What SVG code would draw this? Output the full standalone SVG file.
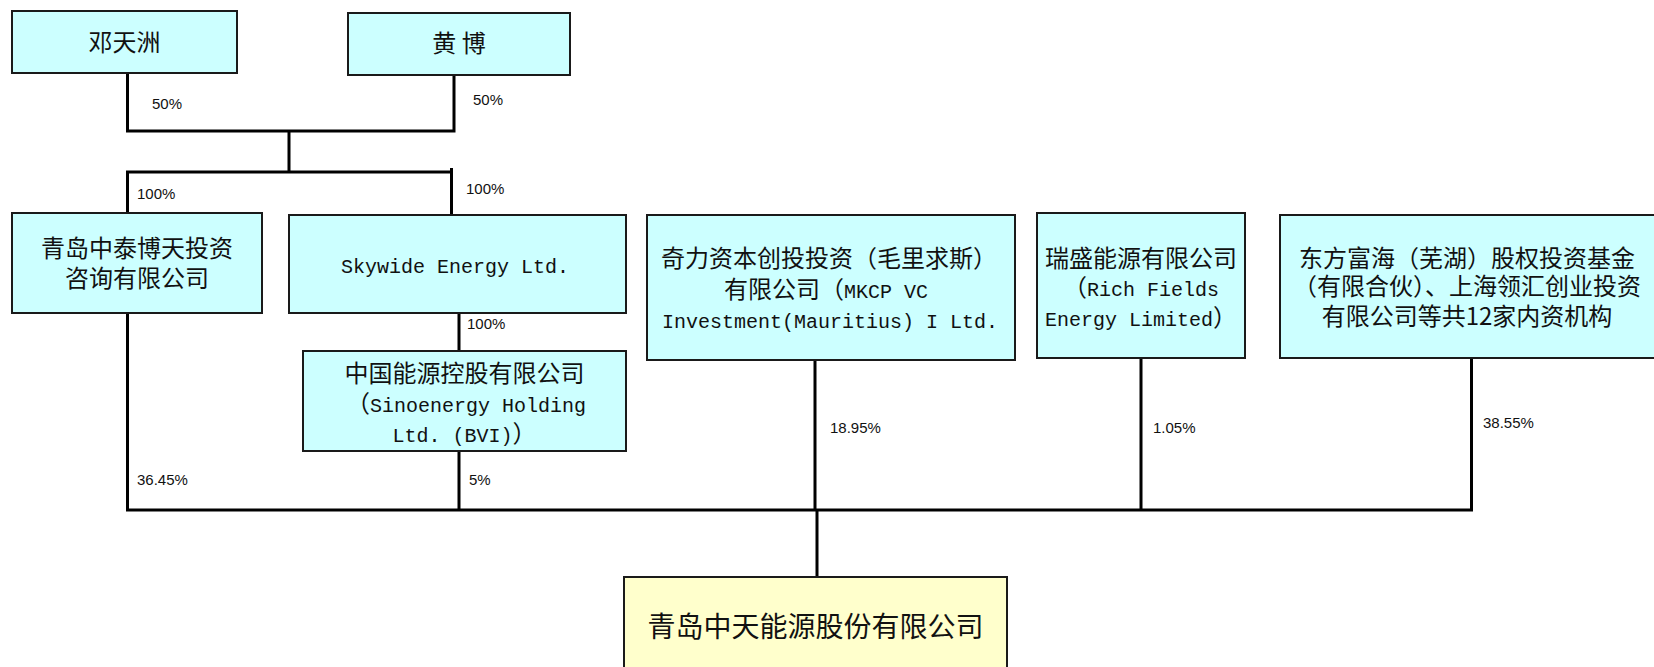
<svg xmlns="http://www.w3.org/2000/svg" width="1654" height="667" viewBox="0 0 1654 667">
<style>
.box{fill:#CCFFFF;stroke:#1a1a1a;stroke-width:2}
.boxY{fill:#FFFFCC;stroke:#1a1a1a;stroke-width:2}
.t{font-family:"Noto Sans CJK SC","Noto Sans CJK JP",sans-serif;font-size:24px;fill:#111;text-anchor:middle}
.m{font-family:"Liberation Mono","DejaVu Sans Mono",monospace;font-size:20px}
.lbl{font-family:"Liberation Sans","Open Sans",sans-serif;font-size:15px;fill:#111}
.ln{fill:none;stroke:#000;stroke-width:3}
</style>
<rect width="1654" height="667" fill="#fff"/>
<g id="connectors">
<path class="ln" d="M127.5 73V131M454 75V131M126 131H455.5M289 131V172M126 172H453M127.5 172V213M451.5 168V215"/>
<path class="ln" d="M127.5 313V510M459 313V351M459 451V510M815 360V510M1141 358V510M1471.5 358V510M817 510V577"/>
<path class="ln" d="M126 510H1473" stroke-width="4"/>
<text class="lbl" x="152" y="109">50%</text>
<text class="lbl" x="473" y="105">50%</text>
<text class="lbl" x="137" y="199">100%</text>
<text class="lbl" x="466" y="194">100%</text>
<text class="lbl" x="467" y="329">100%</text>
<text class="lbl" x="137" y="485">36.45%</text>
<text class="lbl" x="469" y="485">5%</text>
<text class="lbl" x="830" y="433">18.95%</text>
<text class="lbl" x="1153" y="433">1.05%</text>
<text class="lbl" x="1483" y="428">38.55%</text>
</g>
<g id="deng">
<rect class="box" x="12" y="11" width="225" height="62"/>
<text class="t" x="124.5" y="51">邓天洲</text>
</g>
<g id="huang">
<rect class="box" x="348" y="13" width="222" height="62"/>
<text class="t" x="459" y="52" xml:space="preserve">黄 博</text>
</g>
<g id="zhongtai">
<rect class="box" x="12" y="213" width="250" height="100"/>
<text class="t"><tspan x="137" y="256.5">青岛中泰博天投资</tspan><tspan x="137" y="286.5">咨询有限公司</tspan></text>
</g>
<g id="skywide">
<rect class="box" x="289" y="215" width="337" height="98"/>
<text class="t m" x="455" y="273">Skywide Energy Ltd.</text>
</g>
<g id="sinoenergy">
<rect class="box" x="303" y="351" width="323" height="100"/>
<text class="t"><tspan x="464.5" y="381.5">中国能源控股有限公司</tspan><tspan x="466" y="412">（</tspan><tspan class="m">Sinoenergy Holding</tspan><tspan x="464.5" y="442" class="m">Ltd. (BVI)</tspan><tspan>）</tspan></text>
</g>
<g id="mkcp">
<rect class="box" x="647" y="215" width="368" height="145"/>
<text class="t"><tspan x="829" y="266.5">奇力资本创投投资（毛里求斯）</tspan><tspan x="826" y="298">有限公司（</tspan><tspan class="m">MKCP VC</tspan><tspan class="m" x="830" y="328">Investment(Mauritius) I Ltd.</tspan></text>
</g>
<g id="richfields">
<rect class="box" x="1037" y="213" width="208" height="145"/>
<text class="t"><tspan x="1141" y="266.5">瑞盛能源有限公司</tspan><tspan x="1141" y="296">（</tspan><tspan class="m">Rich Fields</tspan><tspan class="m" x="1141" y="326">Energy Limited</tspan><tspan>）</tspan></text>
</g>
<g id="dongfang">
<rect class="box" x="1280" y="215" width="380" height="143"/>
<text class="t"><tspan x="1467" y="266.5">东方富海（芜湖）股权投资基金</tspan><tspan x="1467" y="295">（有限合伙）、上海领汇创业投资</tspan><tspan x="1467" y="325">有限公司等共12家内资机构</tspan></text>
</g>
<g id="zhongtian">
<rect class="boxY" x="624" y="577" width="383" height="100"/>
<text class="t" x="815.5" y="637" style="font-size:28px">青岛中天能源股份有限公司</text>
</g>
</svg>
